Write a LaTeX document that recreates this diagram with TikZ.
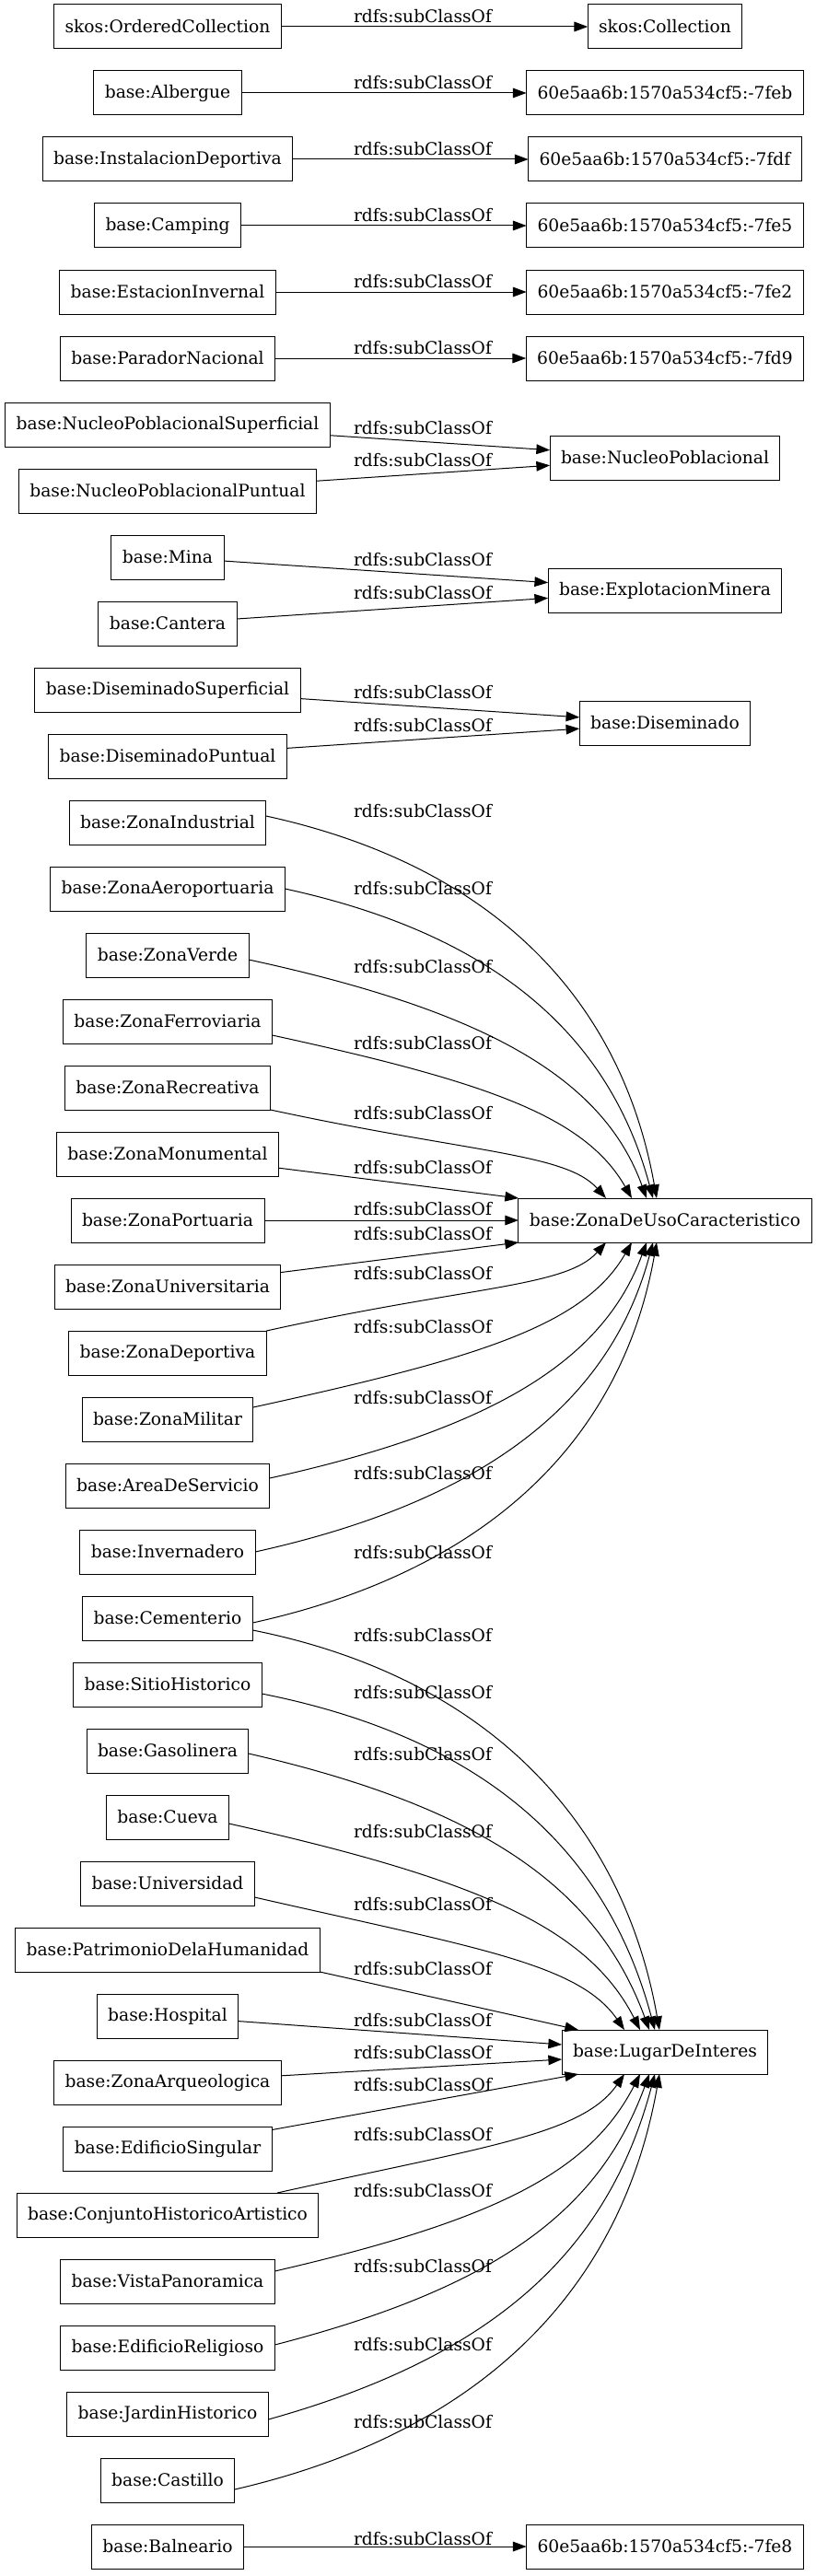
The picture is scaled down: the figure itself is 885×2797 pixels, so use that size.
\documentclass[tikz,border=0pt]{standalone}
\usepackage{fontspec}
\setmainfont{DejaVu Serif}
\usepackage{tikz}
\usetikzlibrary{arrows.meta,positioning,calc}

\begin{document}
\begin{tikzpicture}[
  x=0.75pt, y=-0.75pt,
  font=\fontsize{14pt}{16pt}\selectfont,
  cls/.style={draw, line width=0.75pt, inner xsep=9pt, inner ysep=0pt, outer sep=0pt, minimum height=36pt},
  sub/.style={-{Triangle[length=11pt,width=8pt]}, line width=0.75pt},
  lbl/.style={inner sep=0pt},
  node distance=18pt
]
\useasboundingbox (0,0) rectangle (885,2797);
\coordinate (rcol) at (722,0);

\node[cls] (ordcoll) at (182,29) {skos:OrderedCollection};
\node[cls, below=of ordcoll] (albergue) {base:Albergue};
\node[cls, below=of albergue] (instdep) {base:InstalacionDeportiva};
\node[cls, below=of instdep] (camping) {base:Camping};
\node[cls, below=of camping] (estinv) {base:EstacionInvernal};
\node[cls, below=of estinv] (parador) {base:ParadorNacional};
\node[cls, below=of parador] (npsup) {base:NucleoPoblacionalSuperficial};
\node[cls, below=of npsup] (nppunt) {base:NucleoPoblacionalPuntual};
\node[cls, below=of nppunt] (mina) {base:Mina};
\node[cls, below=of mina] (cantera) {base:Cantera};
\node[cls, below=of cantera] (dissup) {base:DiseminadoSuperficial};
\node[cls, below=of dissup] (dispunt) {base:DiseminadoPuntual};
\node[cls, below=of dispunt] (zind) {base:ZonaIndustrial};
\node[cls, below=of zind] (zaero) {base:ZonaAeroportuaria};
\node[cls, below=of zaero] (zverde) {base:ZonaVerde};
\node[cls, below=of zverde] (zferro) {base:ZonaFerroviaria};
\node[cls, below=of zferro] (zrecr) {base:ZonaRecreativa};
\node[cls, below=of zrecr] (zmonu) {base:ZonaMonumental};
\node[cls, below=of zmonu] (zport) {base:ZonaPortuaria};
\node[cls, below=of zport] (zuniv) {base:ZonaUniversitaria};
\node[cls, below=of zuniv] (zdep) {base:ZonaDeportiva};
\node[cls, below=of zdep] (zmil) {base:ZonaMilitar};
\node[cls, below=of zmil] (areaserv) {base:AreaDeServicio};
\node[cls, below=of areaserv] (invern) {base:Invernadero};
\node[cls, below=of invern] (cement) {base:Cementerio};
\node[cls, below=of cement] (sitio) {base:SitioHistorico};
\node[cls, below=of sitio] (gasol) {base:Gasolinera};
\node[cls, below=of gasol] (cueva) {base:Cueva};
\node[cls, below=of cueva] (univ) {base:Universidad};
\node[cls, below=of univ] (patrim) {base:PatrimonioDelaHumanidad};
\node[cls, below=of patrim] (hospital) {base:Hospital};
\node[cls, below=of hospital] (zarq) {base:ZonaArqueologica};
\node[cls, below=of zarq] (edsing) {base:EdificioSingular};
\node[cls, below=of edsing] (conjunto) {base:ConjuntoHistoricoArtistico};
\node[cls, below=of conjunto] (vistapan) {base:VistaPanoramica};
\node[cls, below=of vistapan] (edrelig) {base:EdificioReligioso};
\node[cls, below=of edrelig] (jardin) {base:JardinHistorico};
\node[cls, below=of jardin] (castillo) {base:Castillo};
\node[cls, below=of castillo] (balneario) {base:Balneario};

\node[cls] (coll) at (rcol |- ordcoll) {skos:Collection};
\node[cls] (bn7feb) at (rcol |- albergue) {60e5aa6b:1570a534cf5:-7feb};
\node[cls] (bn7fdf) at (rcol |- instdep) {60e5aa6b:1570a534cf5:-7fdf};
\node[cls] (bn7fe5) at (rcol |- camping) {60e5aa6b:1570a534cf5:-7fe5};
\node[cls] (bn7fe2) at (rcol |- estinv) {60e5aa6b:1570a534cf5:-7fe2};
\node[cls] (bn7fd9) at (rcol |- parador) {60e5aa6b:1570a534cf5:-7fd9};
\node[cls] (nucleo) at ($(rcol |- npsup)!.5!(rcol |- nppunt)$) {base:NucleoPoblacional};
\node[cls] (explot) at ($(rcol |- mina)!.5!(rcol |- cantera)$) {base:ExplotacionMinera};
\node[cls] (disem) at ($(rcol |- dissup)!.5!(rcol |- dispunt)$) {base:Diseminado};
\node[cls] (zdu) at (rcol |- zport) {base:ZonaDeUsoCaracteristico};
\node[cls] (lugar) at ($(rcol |- hospital)!.5!(rcol |- zarq)+(0,3)$) {base:LugarDeInteres};
\node[cls] (bn7fe8) at (rcol |- balneario) {60e5aa6b:1570a534cf5:-7fe8};

\draw[sub] (ordcoll) -- (coll) node[lbl] (l1) at (459,18) {rdfs:subClassOf};
\draw[sub] (albergue) -- (bn7feb) node[lbl] (l2) at (459,90) {rdfs:subClassOf};
\draw[sub] (instdep) -- (bn7fdf) node[lbl] (l3) at (459,162) {rdfs:subClassOf};
\draw[sub] (camping) -- (bn7fe5) node[lbl] (l4) at (459,234) {rdfs:subClassOf};
\draw[sub] (estinv) -- (bn7fe2) node[lbl] (l5) at (459,306) {rdfs:subClassOf};
\draw[sub] (parador) -- (bn7fd9) node[lbl] (l6) at (459,378) {rdfs:subClassOf};
\draw[sub] (npsup) -- (nucleo) node[lbl] (l7) at (459,465) {rdfs:subClassOf};
\draw[sub] (nppunt) -- (nucleo) node[lbl] (l8) at (459,500) {rdfs:subClassOf};
\draw[sub] (mina) -- (explot) node[lbl] (l9) at (459,608) {rdfs:subClassOf};
\draw[sub] (cantera) -- (explot) node[lbl] (l10) at (459,644) {rdfs:subClassOf};
\draw[sub] (dissup) -- (disem) node[lbl] (l11) at (459,752) {rdfs:subClassOf};
\draw[sub] (dispunt) -- (disem) node[lbl] (l12) at (459,788) {rdfs:subClassOf};

\draw[sub] ($(zind.east)+(0,-7)$) .. controls +(256,56) and +(-37,-208) .. ($(zdu.north)+(-9,0)$) node[lbl] (l13) at (459,881) {rdfs:subClassOf};
\draw[sub] (zaero.east) .. controls +(239,52) and +(-45,-168) .. ($(zdu.north)+(-13,0)$) node[lbl] (l14) at (459,965) {rdfs:subClassOf};
\draw[sub] ($(zverde.east)+(0,5)$) .. controls +(259,56) and +(-47,-130) .. ($(zdu.north)+(-20,0)$) node[lbl] (l15) at (459,1050) {rdfs:subClassOf};
\draw[sub] ($(zferro.east)+(0,15)$) .. controls +(234,51) and +(-51,-89) .. ($(zdu.north)+(-36,0)$) node[lbl] (l16) at (459,1133) {rdfs:subClassOf};
\draw[sub] (zrecr.south east) .. controls +(218,47) and +(-44,-49) .. ($(zdu.north)+(-64,0)$) node[lbl] (l17) at (459,1209) {rdfs:subClassOf};
\draw[sub] (zmonu) -- (zdu.north west) node[lbl] (l18) at (459,1268) {rdfs:subClassOf};
\draw[sub] (zport) -- (zdu) node[lbl] (l19) at (459,1313) {rdfs:subClassOf};
\draw[sub] (zuniv) -- (zdu.south west) node[lbl] (l20) at (459,1340) {rdfs:subClassOf};
\draw[sub] (zdep.north east) .. controls +(221,-49) and +(-44,49) .. ($(zdu.south)+(-64,0)$) node[lbl] (l21) at (459,1383) {rdfs:subClassOf};
\draw[sub] ($(zmil.east)+(0,-13)$) .. controls +(247,-54) and +(-52,90) .. ($(zdu.south)+(-36,0)$) node[lbl] (l22) at (459,1441) {rdfs:subClassOf};
\draw[sub] ($(areaserv.east)+(0,-8)$) .. controls +(244,-54) and +(-47,128) .. ($(zdu.south)+(-20,0)$) node[lbl] (l23) at (459,1518) {rdfs:subClassOf};
\draw[sub] (invern.east) .. controls +(258,-57) and +(-45,168) .. ($(zdu.south)+(-13,0)$) node[lbl] (l24) at (459,1600) {rdfs:subClassOf};
\draw[sub] ($(cement.east)+(0,5)$) .. controls +(263,-58) and +(-37,208) .. ($(zdu.south)+(-9,0)$) node[lbl] (l25) at (459,1686) {rdfs:subClassOf};

\draw[sub] ($(cement.east)+(0,13)$) .. controls +(265,53) and +(-38,-216) .. ($(lugar.north)+(-6,0)$) node[lbl] (l26) at (459,1776) {rdfs:subClassOf};
\draw[sub] ($(sitio.east)+(0,10)$) .. controls +(256,51) and +(-49,-183) .. ($(lugar.north)+(-11,0)$) node[lbl] (l27) at (459,1838) {rdfs:subClassOf};
\draw[sub] ($(gasol.east)+(0,3)$) .. controls +(261,60) and +(-55,-150) .. ($(lugar.north)+(-17,0)$) node[lbl] (l28) at (459,1905) {rdfs:subClassOf};
\draw[sub] ($(cueva.east)+(0,7)$) .. controls +(268,60) and +(-57,-112) .. ($(lugar.north)+(-27,0)$) node[lbl] (l29) at (459,1989) {rdfs:subClassOf};
\draw[sub] ($(univ.east)+(0,15)$) .. controls +(241,55) and +(-50,-72) .. ($(lugar.north)+(-44,0)$) node[lbl] (l30) at (459,2068) {rdfs:subClassOf};
\draw[sub] (patrim.south east) -- ($(lugar.north)+(-94,0)$) node[lbl] (l31) at (459,2138) {rdfs:subClassOf};
\draw[sub] (hospital) -- ($(lugar.west)+(0,-8)$) node[lbl] (l32) at (459,2194) {rdfs:subClassOf};
\draw[sub] (zarq) -- ($(lugar.west)+(0,8)$) node[lbl] (l33) at (459,2229) {rdfs:subClassOf};
\draw[sub] (edsing) -- ($(lugar.south)+(-94,0)$) node[lbl] (l34) at (459,2264) {rdfs:subClassOf};
\draw[sub] ($(conjunto.north east)+(-45,0)$) .. controls +(225,-50) and +(-46,66) .. ($(lugar.south)+(-44,0)$) node[lbl] (l35) at (459,2318) {rdfs:subClassOf};
\draw[sub] ($(vistapan.east)+(0,-11)$) .. controls +(238,-55) and +(-55,107) .. ($(lugar.south)+(-27,0)$) node[lbl] (l36) at (459,2379) {rdfs:subClassOf};
\draw[sub] ($(edrelig.east)+(0,-3)$) .. controls +(244,-63) and +(-54,147) .. ($(lugar.south)+(-17,0)$) node[lbl] (l37) at (459,2461) {rdfs:subClassOf};
\draw[sub] ($(jardin.east)+(0,6)$) .. controls +(251,-70) and +(-50,188) .. ($(lugar.south)+(-11,0)$) node[lbl] (l38) at (459,2546) {rdfs:subClassOf};
\draw[sub] ($(castillo.east)+(0,10)$) .. controls +(277,-64) and +(-40,226) .. ($(lugar.south)+(-6,0)$) node[lbl] (l39) at (459,2630) {rdfs:subClassOf};

\draw[sub] (balneario) -- (bn7fe8) node[lbl] (l40) at (459,2757) {rdfs:subClassOf};
\end{tikzpicture}
\end{document}
